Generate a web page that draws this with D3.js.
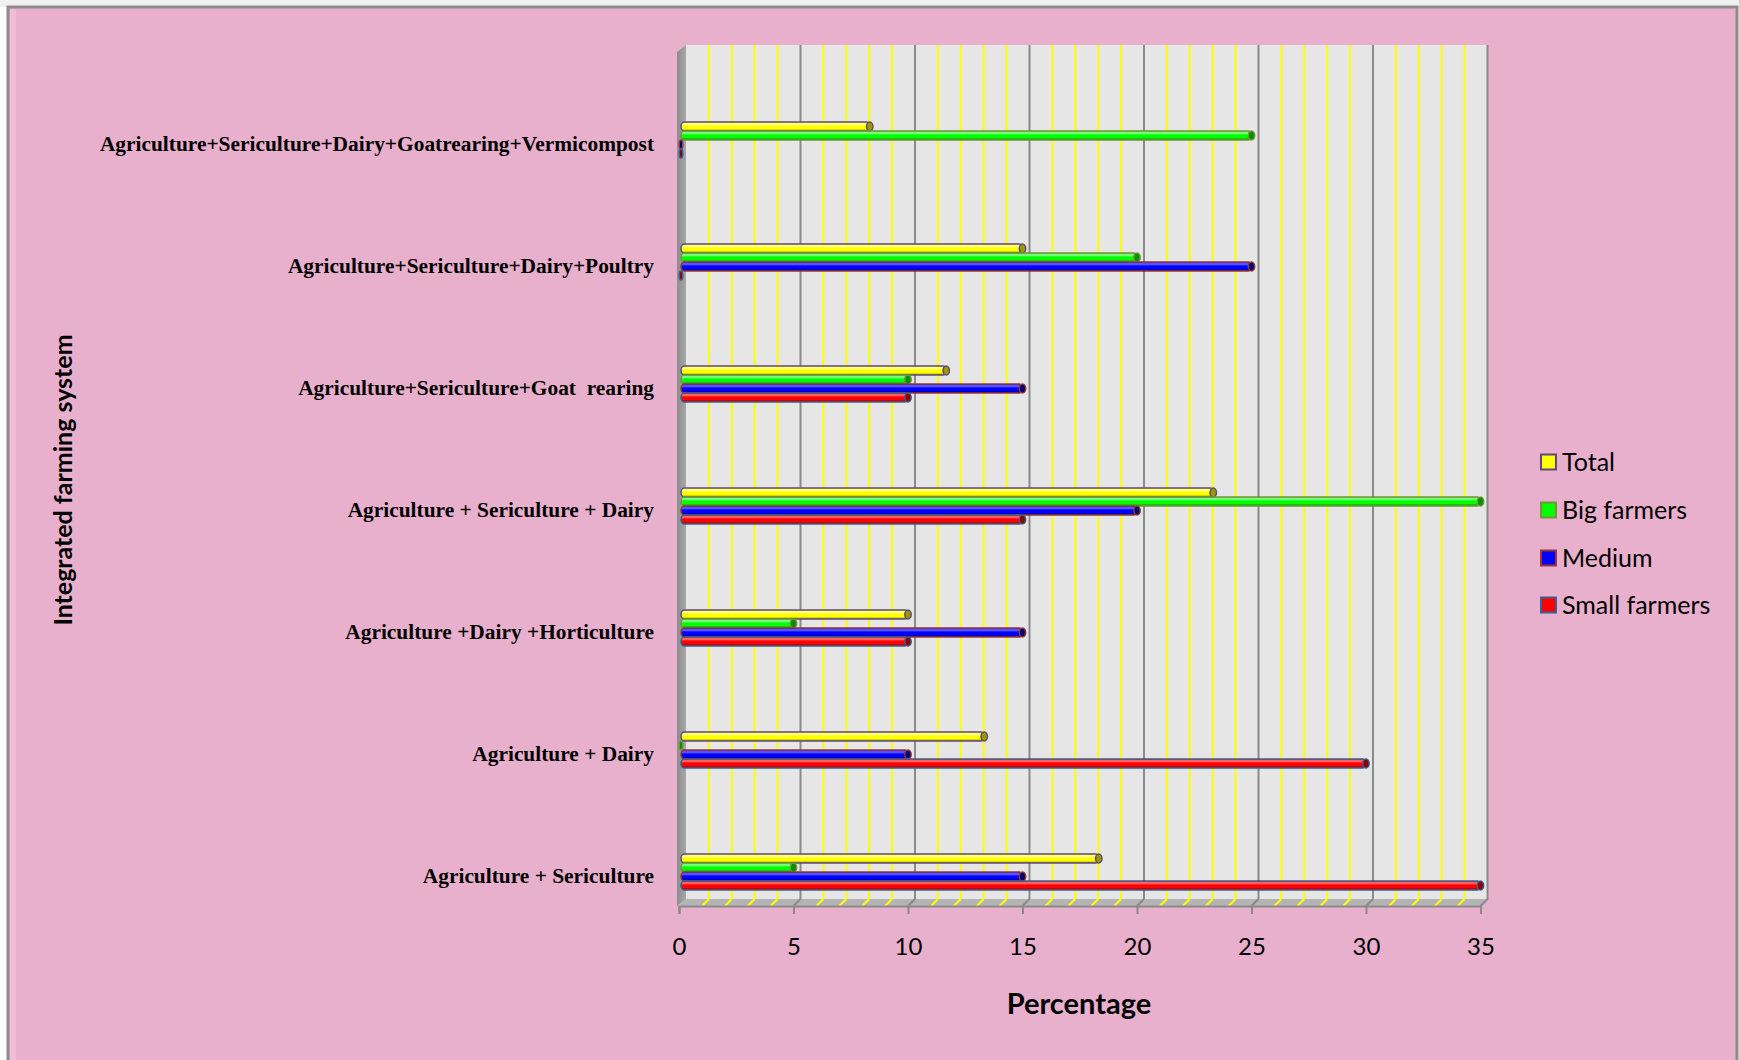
<!DOCTYPE html>
<html>
<head>
<meta charset="utf-8">
<script src="https://cdn.jsdelivr.net/npm/d3@7"></script>
<style>
  html, body { margin: 0; padding: 0; background: #ffffff; }
  svg { display: block; }
</style>
</head>
<body>
<svg id="chart" width="1739" height="1060"></svg>
<script>
// Integrated farming systems by farmer class (percentage of respondents)
const categories = [
  "Agriculture + Sericulture",
  "Agriculture + Dairy",
  "Agriculture +Dairy +Horticulture",
  "Agriculture + Sericulture + Dairy",
  "Agriculture+Sericulture+Goat  rearing",
  "Agriculture+Sericulture+Dairy+Poultry",
  "Agriculture+Sericulture+Dairy+Goatrearing+Vermicompost"
];
const seriesNames = ["Total", "Big farmers", "Medium", "Small farmers"];
const totalValues  = [18.33, 13.33, 10, 23.33, 11.67, 15, 8.33];
const bigValues    = [5, 0, 5, 35, 10, 20, 25];
const mediumValues = [15, 10, 15, 20, 15, 25, 0];
const smallValues  = [35, 30, 10, 15, 10, 0, 0];
const xTicks = [0, 5, 10, 15, 20, 25, 30, 35];

const seriesValues = [totalValues, bigValues, mediumValues, smallValues];
const seriesStyle = [
  { light: "#ffffb0", base: "#ffff00", dark: "#9a9a00", edge: "#5f497a" },
  { light: "#a0ffa0", base: "#00ff00", dark: "#009000", edge: "#77933c" },
  { light: "#7070ff", base: "#0000ff", dark: "#000070", edge: "#953735" },
  { light: "#ff8080", base: "#ff0000", dark: "#900000", edge: "#376092" }
];

const svg = d3.select("#chart");
const defs = svg.append("defs");

// Outer frame
svg.append("rect").attr("x", 0).attr("y", 0).attr("width", 1739).attr("height", 7).attr("fill", "#f0f0f0");
svg.append("rect").attr("x", 8).attr("y", 7).attr("width", 1729).attr("height", 1060)
  .attr("fill", "#e8b0cc").attr("stroke", "#8c8c8c").attr("stroke-width", 3);
svg.append("rect").attr("x", 10).attr("y", 9).attr("width", 6).attr("height", 1060)
  .attr("fill", "#f2c2da").attr("opacity", 0.8);

// Scales
const x = d3.scaleLinear().domain([0, 35]).range([679, 1480.5]);
const dx = 7, dy = -7;
const wallTop = 45, floorBack = 899, floorFront = 906;

const yGroup = d3.scalePoint().domain(categories).range([872, 140]);
const yInner = d3.scaleBand().domain(seriesNames).range([-18, 18]).padding(0);

// Back wall
svg.append("rect")
  .attr("x", x(0) + dx).attr("y", wallTop)
  .attr("width", x(35) - x(0)).attr("height", floorBack - wallTop)
  .attr("fill", "#e6e6e6");

// Left side wall
const sideGrad = defs.append("linearGradient").attr("id", "sideGrad")
  .attr("x1", "0").attr("x2", "1").attr("y1", "0").attr("y2", "0");
sideGrad.append("stop").attr("offset", "0%").attr("stop-color", "#8c8c8c");
sideGrad.append("stop").attr("offset", "100%").attr("stop-color", "#a8a8a8");
svg.append("polygon")
  .attr("points", [
    [x(0) - 2, wallTop - dy], [x(0) + dx, wallTop],
    [x(0) + dx, floorBack], [x(0) - 2, floorFront]
  ].map(p => p.join(",")).join(" "))
  .attr("fill", "url(#sideGrad)");

// Floor
svg.append("polygon")
  .attr("points", [
    [x(0), floorFront], [x(35), floorFront],
    [x(35) + dx, floorBack], [x(0) + dx, floorBack]
  ].map(p => p.join(",")).join(" "))
  .attr("fill", "#b4b4b4");

// Gridlines on the back wall and across the floor
const gridVals = d3.range(1, 35);
const grid = svg.append("g");
gridVals.forEach(v => {
  const major = v % 5 === 0;
  const col = major ? "#8a8a8a" : "#ffff00";
  grid.append("line")
    .attr("x1", x(v) + dx).attr("x2", x(v) + dx)
    .attr("y1", wallTop).attr("y2", floorBack)
    .attr("stroke", col).attr("stroke-width", 2);
  grid.append("line")
    .attr("x1", x(v) + dx).attr("x2", x(v))
    .attr("y1", floorBack).attr("y2", floorFront)
    .attr("stroke", col).attr("stroke-width", 2);
});
// Right edge of wall and floor
svg.append("polyline")
  .attr("points", [[x(35) + dx, wallTop], [x(35) + dx, floorBack], [x(35), floorFront]].map(p => p.join(",")).join(" "))
  .attr("fill", "none").attr("stroke", "#8a8a8a").attr("stroke-width", 2);

// X axis
const xAxis = d3.axisBottom(x).tickValues(xTicks).tickSize(8).tickPadding(24).tickFormat(d3.format("d"));
const axisG = svg.append("g").attr("transform", `translate(0,${floorFront})`).call(xAxis);
axisG.select(".domain").attr("stroke", "#8a8a8a").attr("stroke-width", 2);
axisG.selectAll(".tick line").attr("stroke", "#8a8a8a").attr("stroke-width", 2);
axisG.selectAll(".tick text")
  .attr("font-family", "Lato, 'Open Sans', sans-serif")
  .attr("font-size", 24).attr("fill", "#000");

// Gradients for the tube-shaped bars
seriesStyle.forEach((s, i) => {
  const g = defs.append("linearGradient").attr("id", "bar" + i)
    .attr("x1", "0").attr("x2", "0").attr("y1", "0").attr("y2", "1");
  g.append("stop").attr("offset", "0%").attr("stop-color", s.base);
  g.append("stop").attr("offset", "22%").attr("stop-color", s.light);
  g.append("stop").attr("offset", "45%").attr("stop-color", s.base);
  g.append("stop").attr("offset", "72%").attr("stop-color", s.base);
  g.append("stop").attr("offset", "100%").attr("stop-color", s.dark);
});

// Bars
const barH = yInner.bandwidth();
const barsG = svg.append("g");
categories.forEach((cat, ci) => {
  seriesNames.forEach((sn, si) => {
    const v = seriesValues[si][ci];
    const style = seriesStyle[si];
    const top = yGroup(cat) + yInner(sn);
    const x0 = x(0) + 2, x1 = x(v);
    if (v > 0) {
      barsG.append("rect")
        .attr("x", x0).attr("y", top)
        .attr("width", x1 - x0).attr("height", barH)
        .attr("rx", 3).attr("ry", barH / 2)
        .attr("fill", `url(#bar${si})`)
        .attr("stroke", style.edge).attr("stroke-width", 1.5);
    }
    barsG.append("ellipse")
      .attr("cx", v > 0 ? x1 : x0).attr("cy", top + barH / 2)
      .attr("rx", v > 0 ? 3.2 : 1.8).attr("ry", barH / 2)
      .attr("fill", style.dark)
      .attr("stroke", style.edge).attr("stroke-width", 1.5);
  });
});

// Category labels
svg.append("g").selectAll("text").data(categories).join("text")
  .attr("x", 654).attr("y", d => yGroup(d) + 11)
  .attr("text-anchor", "end")
  .attr("font-family", "'Liberation Serif', 'Times New Roman', serif")
  .attr("font-weight", "bold").attr("font-size", 21.4)
  .attr("fill", "#000")
  .attr("xml:space", "preserve")
  .style("white-space", "pre")
  .text(d => d);

// Axis titles
svg.append("text")
  .attr("x", 1079).attr("y", 1014).attr("text-anchor", "middle")
  .attr("font-family", "Lato, 'Open Sans', sans-serif")
  .attr("font-weight", "bold").attr("font-size", 29).attr("fill", "#000")
  .text("Percentage");
svg.append("text")
  .attr("transform", "translate(72,480) rotate(-90)")
  .attr("text-anchor", "middle")
  .attr("font-family", "Lato, 'Open Sans', sans-serif")
  .attr("font-weight", "bold").attr("font-size", 25).attr("fill", "#000")
  .text("Integrated farming system");

// Legend
const legendRows = [462, 510, 558, 605];
const legend = svg.append("g");
seriesNames.forEach((sn, i) => {
  legend.append("rect")
    .attr("x", 1541).attr("y", legendRows[i] - 7.5)
    .attr("width", 15).attr("height", 15)
    .attr("fill", seriesStyle[i].base)
    .attr("stroke", seriesStyle[i].edge).attr("stroke-width", 2);
  legend.append("text")
    .attr("x", 1562).attr("y", legendRows[i] + 9)
    .attr("font-family", "Lato, 'Open Sans', sans-serif")
    .attr("font-size", 25).attr("fill", "#000")
    .text(sn);
});
</script>
</body>
</html>
